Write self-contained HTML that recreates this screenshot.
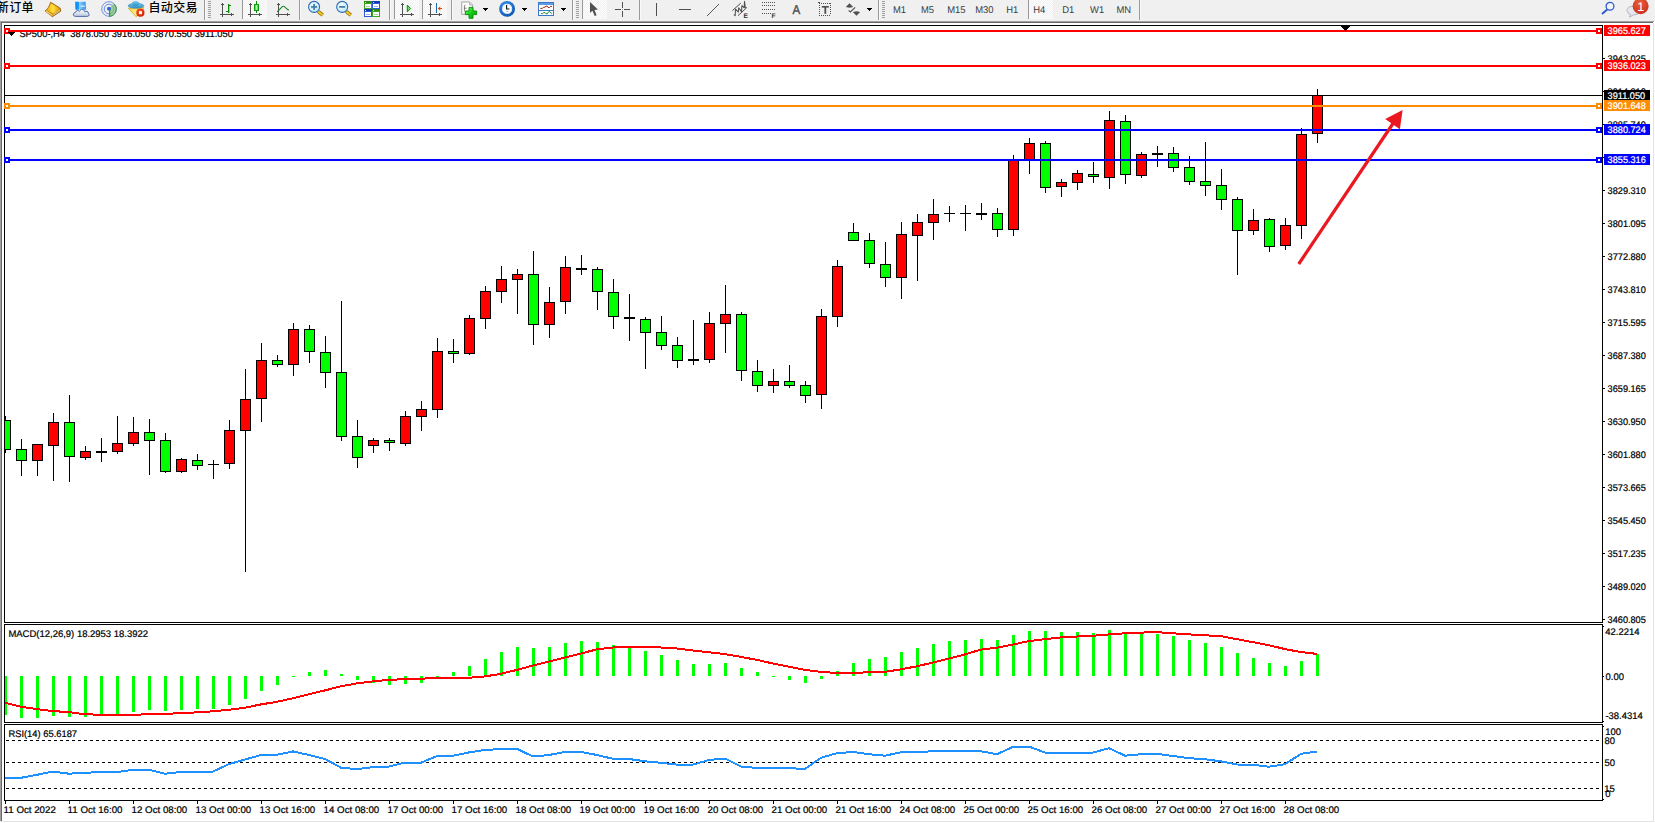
<!DOCTYPE html>
<html lang="zh-CN"><head><meta charset="utf-8"><title>SP500-,H4</title>
<style>
html,body{margin:0;padding:0;background:#fff;}
body{width:1655px;height:823px;position:relative;overflow:hidden;font-family:"Liberation Sans", "Noto Sans CJK SC", sans-serif;}
#tb{position:absolute;left:0;top:0;width:1655px;height:21px;background:#f0f0f0;}
#tb .t{position:absolute;color:#000;font-size:12px;line-height:14px;white-space:nowrap;font-weight:500;letter-spacing:0.35px;}
#tb .p{position:absolute;color:#3c3c3c;font-size:9.9px;line-height:12px;white-space:nowrap;top:4px;letter-spacing:-0.25px;}
#tb .sep{position:absolute;top:1px;width:1px;height:18px;background:#a0a0a0;}
#tb .grip{position:absolute;top:2px;width:3px;height:17px;background:repeating-linear-gradient(#b4b4b4 0 1px,#f0f0f0 1px 2px);}
#tb .on{position:absolute;top:0;height:20px;background:#fafafa;border-left:1px solid #a8a8a8;box-sizing:border-box;}
#tb svg{position:absolute;overflow:visible;}
#chart{position:absolute;left:0;top:0;}
#chart text,#tb svg text{font-family:"Liberation Sans", "Noto Sans CJK SC", sans-serif;text-rendering:geometricPrecision;}
#chart text{fill:#000;stroke:#000;stroke-width:.22px;}
</style></head><body>
<svg id="chart" width="1655" height="823" viewBox="0 0 1655 823">
<g shape-rendering="crispEdges">
<rect x="0" y="21" width="1654" height="1" fill="#a0a0a0"/>
<rect x="1" y="22" width="1652" height="1" fill="#696969"/>
<rect x="0" y="22" width="1" height="800" fill="#a0a0a0"/>
<rect x="1" y="23" width="1" height="798" fill="#696969"/>
<rect x="1653" y="23" width="1" height="799" fill="#e3e3e3"/>
<rect x="0" y="821" width="1654" height="1" fill="#e3e3e3"/>
<rect x="4" y="25" width="1599" height="1" fill="#000"/>
<rect x="4" y="622" width="1599" height="1" fill="#000"/>
<rect x="4" y="25" width="1" height="598" fill="#000"/>
<rect x="1602" y="25" width="1" height="598" fill="#000"/>
<rect x="4" y="624" width="1599" height="1" fill="#000"/>
<rect x="4" y="722" width="1599" height="1" fill="#000"/>
<rect x="4" y="624" width="1" height="99" fill="#000"/>
<rect x="1602" y="624" width="1" height="99" fill="#000"/>
<rect x="4" y="724" width="1599" height="1" fill="#000"/>
<rect x="4" y="800" width="1599" height="1" fill="#000"/>
<rect x="4" y="724" width="1" height="77" fill="#000"/>
<rect x="1602" y="724" width="1" height="77" fill="#000"/>
<rect x="5" y="416" width="1" height="37" fill="#000"/>
<rect x="5" y="420" width="6" height="30" fill="#000"/>
<rect x="5" y="421" width="5" height="28" fill="#00ff00"/>
<rect x="21" y="439" width="1" height="37" fill="#000"/>
<rect x="16" y="449" width="11" height="12" fill="#000"/>
<rect x="17" y="450" width="9" height="10" fill="#00ff00"/>
<rect x="37" y="444" width="1" height="32" fill="#000"/>
<rect x="32" y="444" width="11" height="17" fill="#000"/>
<rect x="33" y="445" width="9" height="15" fill="#ff0000"/>
<rect x="53" y="413" width="1" height="68" fill="#000"/>
<rect x="48" y="422" width="11" height="24" fill="#000"/>
<rect x="49" y="423" width="9" height="22" fill="#ff0000"/>
<rect x="69" y="395" width="1" height="87" fill="#000"/>
<rect x="64" y="422" width="11" height="35" fill="#000"/>
<rect x="65" y="423" width="9" height="33" fill="#00ff00"/>
<rect x="85" y="446" width="1" height="14" fill="#000"/>
<rect x="80" y="451" width="11" height="7" fill="#000"/>
<rect x="81" y="452" width="9" height="5" fill="#ff0000"/>
<rect x="101" y="438" width="1" height="24" fill="#000"/>
<rect x="96" y="451" width="11" height="2" fill="#000"/>
<rect x="117" y="416" width="1" height="38" fill="#000"/>
<rect x="112" y="443" width="11" height="9" fill="#000"/>
<rect x="113" y="444" width="9" height="7" fill="#ff0000"/>
<rect x="133" y="417" width="1" height="29" fill="#000"/>
<rect x="128" y="432" width="11" height="12" fill="#000"/>
<rect x="129" y="433" width="9" height="10" fill="#ff0000"/>
<rect x="149" y="419" width="1" height="56" fill="#000"/>
<rect x="144" y="432" width="11" height="9" fill="#000"/>
<rect x="145" y="433" width="9" height="7" fill="#00ff00"/>
<rect x="165" y="433" width="1" height="40" fill="#000"/>
<rect x="160" y="440" width="11" height="32" fill="#000"/>
<rect x="161" y="441" width="9" height="30" fill="#00ff00"/>
<rect x="181" y="458" width="1" height="15" fill="#000"/>
<rect x="176" y="459" width="11" height="13" fill="#000"/>
<rect x="177" y="460" width="9" height="11" fill="#ff0000"/>
<rect x="197" y="454" width="1" height="16" fill="#000"/>
<rect x="192" y="460" width="11" height="6" fill="#000"/>
<rect x="193" y="461" width="9" height="4" fill="#00ff00"/>
<rect x="213" y="460" width="1" height="19" fill="#000"/>
<rect x="208" y="464" width="11" height="1" fill="#000"/>
<rect x="229" y="420" width="1" height="49" fill="#000"/>
<rect x="224" y="430" width="11" height="34" fill="#000"/>
<rect x="225" y="431" width="9" height="32" fill="#ff0000"/>
<rect x="245" y="369" width="1" height="203" fill="#000"/>
<rect x="240" y="399" width="11" height="32" fill="#000"/>
<rect x="241" y="400" width="9" height="30" fill="#ff0000"/>
<rect x="261" y="343" width="1" height="79" fill="#000"/>
<rect x="256" y="360" width="11" height="39" fill="#000"/>
<rect x="257" y="361" width="9" height="37" fill="#ff0000"/>
<rect x="277" y="355" width="1" height="12" fill="#000"/>
<rect x="272" y="360" width="11" height="5" fill="#000"/>
<rect x="273" y="361" width="9" height="3" fill="#00ff00"/>
<rect x="293" y="323" width="1" height="53" fill="#000"/>
<rect x="288" y="329" width="11" height="36" fill="#000"/>
<rect x="289" y="330" width="9" height="34" fill="#ff0000"/>
<rect x="309" y="325" width="1" height="38" fill="#000"/>
<rect x="304" y="329" width="11" height="23" fill="#000"/>
<rect x="305" y="330" width="9" height="21" fill="#00ff00"/>
<rect x="325" y="336" width="1" height="52" fill="#000"/>
<rect x="320" y="352" width="11" height="21" fill="#000"/>
<rect x="321" y="353" width="9" height="19" fill="#00ff00"/>
<rect x="341" y="301" width="1" height="140" fill="#000"/>
<rect x="336" y="372" width="11" height="65" fill="#000"/>
<rect x="337" y="373" width="9" height="63" fill="#00ff00"/>
<rect x="357" y="420" width="1" height="48" fill="#000"/>
<rect x="352" y="436" width="11" height="22" fill="#000"/>
<rect x="353" y="437" width="9" height="20" fill="#00ff00"/>
<rect x="373" y="438" width="1" height="15" fill="#000"/>
<rect x="368" y="440" width="11" height="6" fill="#000"/>
<rect x="369" y="441" width="9" height="4" fill="#ff0000"/>
<rect x="389" y="438" width="1" height="13" fill="#000"/>
<rect x="384" y="440" width="11" height="3" fill="#000"/>
<rect x="385" y="441" width="9" height="1" fill="#00ff00"/>
<rect x="405" y="411" width="1" height="35" fill="#000"/>
<rect x="400" y="416" width="11" height="28" fill="#000"/>
<rect x="401" y="417" width="9" height="26" fill="#ff0000"/>
<rect x="421" y="401" width="1" height="30" fill="#000"/>
<rect x="416" y="409" width="11" height="8" fill="#000"/>
<rect x="417" y="410" width="9" height="6" fill="#ff0000"/>
<rect x="437" y="338" width="1" height="80" fill="#000"/>
<rect x="432" y="351" width="11" height="59" fill="#000"/>
<rect x="433" y="352" width="9" height="57" fill="#ff0000"/>
<rect x="453" y="339" width="1" height="24" fill="#000"/>
<rect x="448" y="351" width="11" height="3" fill="#000"/>
<rect x="449" y="352" width="9" height="1" fill="#00ff00"/>
<rect x="469" y="315" width="1" height="40" fill="#000"/>
<rect x="464" y="318" width="11" height="36" fill="#000"/>
<rect x="465" y="319" width="9" height="34" fill="#ff0000"/>
<rect x="485" y="286" width="1" height="43" fill="#000"/>
<rect x="480" y="291" width="11" height="28" fill="#000"/>
<rect x="481" y="292" width="9" height="26" fill="#ff0000"/>
<rect x="501" y="266" width="1" height="37" fill="#000"/>
<rect x="496" y="279" width="11" height="13" fill="#000"/>
<rect x="497" y="280" width="9" height="11" fill="#ff0000"/>
<rect x="517" y="269" width="1" height="45" fill="#000"/>
<rect x="512" y="274" width="11" height="6" fill="#000"/>
<rect x="513" y="275" width="9" height="4" fill="#ff0000"/>
<rect x="533" y="251" width="1" height="94" fill="#000"/>
<rect x="528" y="274" width="11" height="51" fill="#000"/>
<rect x="529" y="275" width="9" height="49" fill="#00ff00"/>
<rect x="549" y="287" width="1" height="51" fill="#000"/>
<rect x="544" y="302" width="11" height="23" fill="#000"/>
<rect x="545" y="303" width="9" height="21" fill="#ff0000"/>
<rect x="565" y="256" width="1" height="58" fill="#000"/>
<rect x="560" y="267" width="11" height="35" fill="#000"/>
<rect x="561" y="268" width="9" height="33" fill="#ff0000"/>
<rect x="581" y="255" width="1" height="20" fill="#000"/>
<rect x="576" y="268" width="11" height="2" fill="#000"/>
<rect x="597" y="267" width="1" height="43" fill="#000"/>
<rect x="592" y="269" width="11" height="23" fill="#000"/>
<rect x="593" y="270" width="9" height="21" fill="#00ff00"/>
<rect x="613" y="279" width="1" height="50" fill="#000"/>
<rect x="608" y="292" width="11" height="25" fill="#000"/>
<rect x="609" y="293" width="9" height="23" fill="#00ff00"/>
<rect x="629" y="294" width="1" height="47" fill="#000"/>
<rect x="624" y="317" width="11" height="2" fill="#000"/>
<rect x="645" y="317" width="1" height="52" fill="#000"/>
<rect x="640" y="319" width="11" height="14" fill="#000"/>
<rect x="641" y="320" width="9" height="12" fill="#00ff00"/>
<rect x="661" y="316" width="1" height="34" fill="#000"/>
<rect x="656" y="332" width="11" height="14" fill="#000"/>
<rect x="657" y="333" width="9" height="12" fill="#00ff00"/>
<rect x="677" y="337" width="1" height="31" fill="#000"/>
<rect x="672" y="345" width="11" height="16" fill="#000"/>
<rect x="673" y="346" width="9" height="14" fill="#00ff00"/>
<rect x="693" y="320" width="1" height="45" fill="#000"/>
<rect x="688" y="359" width="11" height="2" fill="#000"/>
<rect x="709" y="312" width="1" height="51" fill="#000"/>
<rect x="704" y="323" width="11" height="37" fill="#000"/>
<rect x="705" y="324" width="9" height="35" fill="#ff0000"/>
<rect x="725" y="285" width="1" height="68" fill="#000"/>
<rect x="720" y="314" width="11" height="10" fill="#000"/>
<rect x="721" y="315" width="9" height="8" fill="#ff0000"/>
<rect x="741" y="312" width="1" height="69" fill="#000"/>
<rect x="736" y="314" width="11" height="57" fill="#000"/>
<rect x="737" y="315" width="9" height="55" fill="#00ff00"/>
<rect x="757" y="360" width="1" height="32" fill="#000"/>
<rect x="752" y="371" width="11" height="15" fill="#000"/>
<rect x="753" y="372" width="9" height="13" fill="#00ff00"/>
<rect x="773" y="369" width="1" height="24" fill="#000"/>
<rect x="768" y="381" width="11" height="5" fill="#000"/>
<rect x="769" y="382" width="9" height="3" fill="#ff0000"/>
<rect x="789" y="365" width="1" height="23" fill="#000"/>
<rect x="784" y="381" width="11" height="5" fill="#000"/>
<rect x="785" y="382" width="9" height="3" fill="#00ff00"/>
<rect x="805" y="381" width="1" height="22" fill="#000"/>
<rect x="800" y="385" width="11" height="11" fill="#000"/>
<rect x="801" y="386" width="9" height="9" fill="#00ff00"/>
<rect x="821" y="309" width="1" height="100" fill="#000"/>
<rect x="816" y="316" width="11" height="79" fill="#000"/>
<rect x="817" y="317" width="9" height="77" fill="#ff0000"/>
<rect x="837" y="260" width="1" height="67" fill="#000"/>
<rect x="832" y="266" width="11" height="51" fill="#000"/>
<rect x="833" y="267" width="9" height="49" fill="#ff0000"/>
<rect x="853" y="223" width="1" height="17" fill="#000"/>
<rect x="848" y="232" width="11" height="9" fill="#000"/>
<rect x="849" y="233" width="9" height="7" fill="#00ff00"/>
<rect x="869" y="233" width="1" height="35" fill="#000"/>
<rect x="864" y="240" width="11" height="24" fill="#000"/>
<rect x="865" y="241" width="9" height="22" fill="#00ff00"/>
<rect x="885" y="242" width="1" height="45" fill="#000"/>
<rect x="880" y="264" width="11" height="14" fill="#000"/>
<rect x="881" y="265" width="9" height="12" fill="#00ff00"/>
<rect x="901" y="222" width="1" height="77" fill="#000"/>
<rect x="896" y="234" width="11" height="44" fill="#000"/>
<rect x="897" y="235" width="9" height="42" fill="#ff0000"/>
<rect x="917" y="214" width="1" height="67" fill="#000"/>
<rect x="912" y="222" width="11" height="14" fill="#000"/>
<rect x="913" y="223" width="9" height="12" fill="#ff0000"/>
<rect x="933" y="199" width="1" height="41" fill="#000"/>
<rect x="928" y="214" width="11" height="9" fill="#000"/>
<rect x="929" y="215" width="9" height="7" fill="#ff0000"/>
<rect x="949" y="206" width="1" height="16" fill="#000"/>
<rect x="944" y="213" width="11" height="1" fill="#000"/>
<rect x="965" y="205" width="1" height="26" fill="#000"/>
<rect x="960" y="213" width="11" height="1" fill="#000"/>
<rect x="981" y="203" width="1" height="17" fill="#000"/>
<rect x="976" y="213" width="11" height="2" fill="#000"/>
<rect x="997" y="208" width="1" height="29" fill="#000"/>
<rect x="992" y="213" width="11" height="17" fill="#000"/>
<rect x="993" y="214" width="9" height="15" fill="#00ff00"/>
<rect x="1013" y="155" width="1" height="81" fill="#000"/>
<rect x="1008" y="159" width="11" height="71" fill="#000"/>
<rect x="1009" y="160" width="9" height="69" fill="#ff0000"/>
<rect x="1029" y="138" width="1" height="36" fill="#000"/>
<rect x="1024" y="143" width="11" height="17" fill="#000"/>
<rect x="1025" y="144" width="9" height="15" fill="#ff0000"/>
<rect x="1045" y="141" width="1" height="52" fill="#000"/>
<rect x="1040" y="143" width="11" height="45" fill="#000"/>
<rect x="1041" y="144" width="9" height="43" fill="#00ff00"/>
<rect x="1061" y="179" width="1" height="18" fill="#000"/>
<rect x="1056" y="182" width="11" height="5" fill="#000"/>
<rect x="1057" y="183" width="9" height="3" fill="#ff0000"/>
<rect x="1077" y="170" width="1" height="20" fill="#000"/>
<rect x="1072" y="173" width="11" height="10" fill="#000"/>
<rect x="1073" y="174" width="9" height="8" fill="#ff0000"/>
<rect x="1093" y="162" width="1" height="21" fill="#000"/>
<rect x="1088" y="174" width="11" height="3" fill="#000"/>
<rect x="1089" y="175" width="9" height="1" fill="#00ff00"/>
<rect x="1109" y="111" width="1" height="78" fill="#000"/>
<rect x="1104" y="120" width="11" height="58" fill="#000"/>
<rect x="1105" y="121" width="9" height="56" fill="#ff0000"/>
<rect x="1125" y="115" width="1" height="69" fill="#000"/>
<rect x="1120" y="121" width="11" height="54" fill="#000"/>
<rect x="1121" y="122" width="9" height="52" fill="#00ff00"/>
<rect x="1141" y="152" width="1" height="26" fill="#000"/>
<rect x="1136" y="154" width="11" height="22" fill="#000"/>
<rect x="1137" y="155" width="9" height="20" fill="#ff0000"/>
<rect x="1157" y="146" width="1" height="21" fill="#000"/>
<rect x="1152" y="153" width="11" height="2" fill="#000"/>
<rect x="1173" y="147" width="1" height="25" fill="#000"/>
<rect x="1168" y="153" width="11" height="15" fill="#000"/>
<rect x="1169" y="154" width="9" height="13" fill="#00ff00"/>
<rect x="1189" y="156" width="1" height="29" fill="#000"/>
<rect x="1184" y="167" width="11" height="15" fill="#000"/>
<rect x="1185" y="168" width="9" height="13" fill="#00ff00"/>
<rect x="1205" y="142" width="1" height="54" fill="#000"/>
<rect x="1200" y="181" width="11" height="5" fill="#000"/>
<rect x="1201" y="182" width="9" height="3" fill="#00ff00"/>
<rect x="1221" y="169" width="1" height="41" fill="#000"/>
<rect x="1216" y="185" width="11" height="15" fill="#000"/>
<rect x="1217" y="186" width="9" height="13" fill="#00ff00"/>
<rect x="1237" y="197" width="1" height="78" fill="#000"/>
<rect x="1232" y="199" width="11" height="32" fill="#000"/>
<rect x="1233" y="200" width="9" height="30" fill="#00ff00"/>
<rect x="1253" y="209" width="1" height="26" fill="#000"/>
<rect x="1248" y="220" width="11" height="11" fill="#000"/>
<rect x="1249" y="221" width="9" height="9" fill="#ff0000"/>
<rect x="1269" y="218" width="1" height="34" fill="#000"/>
<rect x="1264" y="219" width="11" height="28" fill="#000"/>
<rect x="1265" y="220" width="9" height="26" fill="#00ff00"/>
<rect x="1285" y="218" width="1" height="32" fill="#000"/>
<rect x="1280" y="225" width="11" height="21" fill="#000"/>
<rect x="1281" y="226" width="9" height="19" fill="#ff0000"/>
<rect x="1301" y="128" width="1" height="111" fill="#000"/>
<rect x="1296" y="134" width="11" height="92" fill="#000"/>
<rect x="1297" y="135" width="9" height="90" fill="#ff0000"/>
<rect x="1317" y="89" width="1" height="54" fill="#000"/>
<rect x="1312" y="95" width="11" height="39" fill="#000"/>
<rect x="1313" y="96" width="9" height="37" fill="#ff0000"/>
<rect x="5" y="30" width="1597" height="2" fill="#ff0000"/>
<rect x="4" y="28" width="6" height="6" fill="#ff0000"/>
<rect x="6" y="30" width="2" height="2" fill="#fff"/>
<rect x="1596" y="28" width="6" height="6" fill="#ff0000"/>
<rect x="1598" y="30" width="2" height="2" fill="#fff"/>
<rect x="5" y="65" width="1597" height="2" fill="#ff0000"/>
<rect x="4" y="63" width="6" height="6" fill="#ff0000"/>
<rect x="6" y="65" width="2" height="2" fill="#fff"/>
<rect x="1596" y="63" width="6" height="6" fill="#ff0000"/>
<rect x="1598" y="65" width="2" height="2" fill="#fff"/>
<rect x="5" y="95" width="1597" height="1" fill="#000000"/>
<rect x="5" y="105" width="1597" height="2" fill="#ff8c00"/>
<rect x="4" y="103" width="6" height="6" fill="#ff8c00"/>
<rect x="6" y="105" width="2" height="2" fill="#fff"/>
<rect x="1596" y="103" width="6" height="6" fill="#ff8c00"/>
<rect x="1598" y="105" width="2" height="2" fill="#fff"/>
<rect x="5" y="129" width="1597" height="2" fill="#0000ff"/>
<rect x="4" y="127" width="6" height="6" fill="#0000ff"/>
<rect x="6" y="129" width="2" height="2" fill="#fff"/>
<rect x="1596" y="127" width="6" height="6" fill="#0000ff"/>
<rect x="1598" y="129" width="2" height="2" fill="#fff"/>
<rect x="5" y="159" width="1597" height="2" fill="#0000ff"/>
<rect x="4" y="157" width="6" height="6" fill="#0000ff"/>
<rect x="6" y="159" width="2" height="2" fill="#fff"/>
<rect x="1596" y="157" width="6" height="6" fill="#0000ff"/>
<rect x="1598" y="159" width="2" height="2" fill="#fff"/>
<rect x="1602" y="25" width="1" height="598" fill="#000"/>
<rect x="8" y="32" width="7" height="1" fill="#000"/>
<rect x="9" y="33" width="5" height="1" fill="#000"/>
<rect x="10" y="34" width="3" height="1" fill="#000"/>
<rect x="11" y="35" width="1" height="1" fill="#000"/>
<rect x="1341" y="26" width="9" height="1" fill="#000"/>
<rect x="1342" y="27" width="7" height="1" fill="#000"/>
<rect x="1343" y="28" width="5" height="1" fill="#000"/>
<rect x="1344" y="29" width="3" height="1" fill="#000"/>
<rect x="1345" y="30" width="1" height="1" fill="#000"/>
<rect x="5" y="676" width="2" height="39" fill="#00ff00"/>
<rect x="20" y="676" width="3" height="42" fill="#00ff00"/>
<rect x="36" y="676" width="3" height="42" fill="#00ff00"/>
<rect x="52" y="676" width="3" height="40" fill="#00ff00"/>
<rect x="68" y="676" width="3" height="41" fill="#00ff00"/>
<rect x="84" y="676" width="3" height="41" fill="#00ff00"/>
<rect x="100" y="676" width="3" height="38" fill="#00ff00"/>
<rect x="116" y="676" width="3" height="38" fill="#00ff00"/>
<rect x="132" y="676" width="3" height="36" fill="#00ff00"/>
<rect x="148" y="676" width="3" height="34" fill="#00ff00"/>
<rect x="164" y="676" width="3" height="35" fill="#00ff00"/>
<rect x="180" y="676" width="3" height="34" fill="#00ff00"/>
<rect x="196" y="676" width="3" height="33" fill="#00ff00"/>
<rect x="212" y="676" width="3" height="33" fill="#00ff00"/>
<rect x="228" y="676" width="3" height="29" fill="#00ff00"/>
<rect x="244" y="676" width="3" height="23" fill="#00ff00"/>
<rect x="260" y="676" width="3" height="15" fill="#00ff00"/>
<rect x="276" y="676" width="3" height="9" fill="#00ff00"/>
<rect x="292" y="676" width="3" height="1" fill="#00ff00"/>
<rect x="308" y="672" width="3" height="4" fill="#00ff00"/>
<rect x="324" y="670" width="3" height="6" fill="#00ff00"/>
<rect x="340" y="674" width="3" height="2" fill="#00ff00"/>
<rect x="356" y="676" width="3" height="4" fill="#00ff00"/>
<rect x="372" y="676" width="3" height="7" fill="#00ff00"/>
<rect x="388" y="676" width="3" height="9" fill="#00ff00"/>
<rect x="404" y="676" width="3" height="8" fill="#00ff00"/>
<rect x="420" y="676" width="3" height="7" fill="#00ff00"/>
<rect x="436" y="676" width="3" height="1" fill="#00ff00"/>
<rect x="452" y="672" width="3" height="4" fill="#00ff00"/>
<rect x="468" y="666" width="3" height="10" fill="#00ff00"/>
<rect x="484" y="659" width="3" height="17" fill="#00ff00"/>
<rect x="500" y="652" width="3" height="24" fill="#00ff00"/>
<rect x="516" y="647" width="3" height="29" fill="#00ff00"/>
<rect x="532" y="648" width="3" height="28" fill="#00ff00"/>
<rect x="548" y="647" width="3" height="29" fill="#00ff00"/>
<rect x="564" y="643" width="3" height="33" fill="#00ff00"/>
<rect x="580" y="641" width="3" height="35" fill="#00ff00"/>
<rect x="596" y="642" width="3" height="34" fill="#00ff00"/>
<rect x="612" y="645" width="3" height="31" fill="#00ff00"/>
<rect x="628" y="647" width="3" height="29" fill="#00ff00"/>
<rect x="644" y="651" width="3" height="25" fill="#00ff00"/>
<rect x="660" y="655" width="3" height="21" fill="#00ff00"/>
<rect x="676" y="660" width="3" height="16" fill="#00ff00"/>
<rect x="692" y="664" width="3" height="12" fill="#00ff00"/>
<rect x="708" y="664" width="3" height="12" fill="#00ff00"/>
<rect x="724" y="663" width="3" height="13" fill="#00ff00"/>
<rect x="740" y="668" width="3" height="8" fill="#00ff00"/>
<rect x="756" y="672" width="3" height="4" fill="#00ff00"/>
<rect x="772" y="676" width="3" height="1" fill="#00ff00"/>
<rect x="788" y="676" width="3" height="4" fill="#00ff00"/>
<rect x="804" y="676" width="3" height="7" fill="#00ff00"/>
<rect x="820" y="676" width="3" height="3" fill="#00ff00"/>
<rect x="836" y="671" width="3" height="5" fill="#00ff00"/>
<rect x="852" y="663" width="3" height="13" fill="#00ff00"/>
<rect x="868" y="659" width="3" height="17" fill="#00ff00"/>
<rect x="884" y="657" width="3" height="19" fill="#00ff00"/>
<rect x="900" y="652" width="3" height="24" fill="#00ff00"/>
<rect x="916" y="648" width="3" height="28" fill="#00ff00"/>
<rect x="932" y="644" width="3" height="32" fill="#00ff00"/>
<rect x="948" y="641" width="3" height="35" fill="#00ff00"/>
<rect x="964" y="640" width="3" height="36" fill="#00ff00"/>
<rect x="980" y="639" width="3" height="37" fill="#00ff00"/>
<rect x="996" y="640" width="3" height="36" fill="#00ff00"/>
<rect x="1012" y="635" width="3" height="41" fill="#00ff00"/>
<rect x="1028" y="631" width="3" height="45" fill="#00ff00"/>
<rect x="1044" y="631" width="3" height="45" fill="#00ff00"/>
<rect x="1060" y="632" width="3" height="44" fill="#00ff00"/>
<rect x="1076" y="632" width="3" height="44" fill="#00ff00"/>
<rect x="1092" y="633" width="3" height="43" fill="#00ff00"/>
<rect x="1108" y="630" width="3" height="46" fill="#00ff00"/>
<rect x="1124" y="632" width="3" height="44" fill="#00ff00"/>
<rect x="1140" y="633" width="3" height="43" fill="#00ff00"/>
<rect x="1156" y="634" width="3" height="42" fill="#00ff00"/>
<rect x="1172" y="636" width="3" height="40" fill="#00ff00"/>
<rect x="1188" y="640" width="3" height="36" fill="#00ff00"/>
<rect x="1204" y="643" width="3" height="33" fill="#00ff00"/>
<rect x="1220" y="647" width="3" height="29" fill="#00ff00"/>
<rect x="1236" y="653" width="3" height="23" fill="#00ff00"/>
<rect x="1252" y="658" width="3" height="18" fill="#00ff00"/>
<rect x="1268" y="663" width="3" height="13" fill="#00ff00"/>
<rect x="1284" y="666" width="3" height="10" fill="#00ff00"/>
<rect x="1300" y="661" width="3" height="15" fill="#00ff00"/>
<rect x="1316" y="654" width="3" height="22" fill="#00ff00"/>
<line x1="6" y1="740.5" x2="1602" y2="740.5" stroke="#000" stroke-width="1" stroke-dasharray="3 3"/>
<line x1="6" y1="762.5" x2="1602" y2="762.5" stroke="#000" stroke-width="1" stroke-dasharray="3 3"/>
<line x1="6" y1="788.5" x2="1602" y2="788.5" stroke="#000" stroke-width="1" stroke-dasharray="3 3"/>
<rect x="1603" y="619" width="2" height="1" fill="#000"/>
<rect x="1603" y="586" width="2" height="1" fill="#000"/>
<rect x="1603" y="553" width="2" height="1" fill="#000"/>
<rect x="1603" y="520" width="2" height="1" fill="#000"/>
<rect x="1603" y="487" width="2" height="1" fill="#000"/>
<rect x="1603" y="454" width="2" height="1" fill="#000"/>
<rect x="1603" y="421" width="2" height="1" fill="#000"/>
<rect x="1603" y="388" width="2" height="1" fill="#000"/>
<rect x="1603" y="355" width="2" height="1" fill="#000"/>
<rect x="1603" y="322" width="2" height="1" fill="#000"/>
<rect x="1603" y="289" width="2" height="1" fill="#000"/>
<rect x="1603" y="256" width="2" height="1" fill="#000"/>
<rect x="1603" y="223" width="2" height="1" fill="#000"/>
<rect x="1603" y="190" width="2" height="1" fill="#000"/>
<rect x="1603" y="157" width="2" height="1" fill="#000"/>
<rect x="1603" y="124" width="2" height="1" fill="#000"/>
<rect x="1603" y="91" width="2" height="1" fill="#000"/>
<rect x="1603" y="58" width="2" height="1" fill="#000"/>
<rect x="1603" y="626" width="1" height="1" fill="#000"/>
<rect x="1603" y="676" width="1" height="1" fill="#000"/>
<rect x="1603" y="721" width="1" height="1" fill="#000"/>
<rect x="1603" y="726" width="1" height="1" fill="#000"/>
<rect x="1603" y="799" width="1" height="1" fill="#000"/>
<rect x="5" y="801" width="1" height="3" fill="#000"/>
<rect x="69" y="801" width="1" height="3" fill="#000"/>
<rect x="133" y="801" width="1" height="3" fill="#000"/>
<rect x="197" y="801" width="1" height="3" fill="#000"/>
<rect x="261" y="801" width="1" height="3" fill="#000"/>
<rect x="325" y="801" width="1" height="3" fill="#000"/>
<rect x="389" y="801" width="1" height="3" fill="#000"/>
<rect x="453" y="801" width="1" height="3" fill="#000"/>
<rect x="517" y="801" width="1" height="3" fill="#000"/>
<rect x="581" y="801" width="1" height="3" fill="#000"/>
<rect x="645" y="801" width="1" height="3" fill="#000"/>
<rect x="709" y="801" width="1" height="3" fill="#000"/>
<rect x="773" y="801" width="1" height="3" fill="#000"/>
<rect x="837" y="801" width="1" height="3" fill="#000"/>
<rect x="901" y="801" width="1" height="3" fill="#000"/>
<rect x="965" y="801" width="1" height="3" fill="#000"/>
<rect x="1029" y="801" width="1" height="3" fill="#000"/>
<rect x="1093" y="801" width="1" height="3" fill="#000"/>
<rect x="1157" y="801" width="1" height="3" fill="#000"/>
<rect x="1221" y="801" width="1" height="3" fill="#000"/>
<rect x="1285" y="801" width="1" height="3" fill="#000"/>
</g>
<polyline points="5,702.8 21,706.7 37,709.1 53,711.1 69,712.1 85,714.3 101,714.7 117,714.7 133,714.7 149,714.3 165,713.7 181,713.3 197,712.3 213,711.3 229,709.7 245,707.7 261,704.4 277,701.8 293,698.2 309,694.2 325,690.4 341,686.2 357,683.4 373,681.4 389,679.8 405,679.2 421,678.6 437,678.2 453,678.0 469,677.8 485,676.4 501,673.8 517,669.9 533,665.5 549,661.5 565,657.5 581,653.5 597,649.3 613,647.5 629,646.7 645,646.7 661,647.5 677,648.5 693,650.5 709,652.3 725,654.1 741,656.9 757,659.9 773,663.5 789,666.7 805,669.9 821,671.9 837,673.0 853,673.0 869,672.2 885,671.9 901,669.3 917,666.3 933,662.5 949,658.5 965,654.4 981,649.6 997,647.7 1013,644.5 1029,641.1 1045,639.2 1061,637.4 1077,636.5 1093,635.8 1109,634.4 1125,633.3 1141,632.6 1157,632.1 1173,633.3 1189,634.4 1205,635.3 1221,636.2 1237,639.2 1253,642.2 1269,645.2 1285,649.1 1301,652.1 1317,653.9" fill="none" stroke="#ff0000" stroke-width="2" shape-rendering="crispEdges"/>
<polyline points="5,777.8 21,777.8 37,774.8 53,771.5 69,773.7 85,772.7 101,772.2 117,772.2 133,769.7 149,769.7 165,773.7 181,772.0 197,771.5 213,771.5 229,764.1 245,759.5 261,755.0 277,754.7 293,751.4 309,755.0 325,759.0 341,767.7 357,769.2 373,767.1 389,766.6 405,762.6 421,762.7 437,756.0 453,755.7 469,752.4 485,749.9 501,749.1 517,748.9 533,756.5 549,755.0 565,751.9 581,751.9 597,755.0 613,758.8 629,759.0 645,761.3 661,762.8 677,764.6 693,764.6 709,760.0 725,758.5 741,766.6 757,767.9 773,767.9 789,768.2 805,768.9 821,757.7 837,753.2 853,752.0 869,754.2 885,755.7 901,752.3 917,752.0 933,751.3 949,751.0 965,751.0 981,751.3 997,754.2 1013,746.9 1029,746.6 1045,752.6 1061,752.6 1077,752.6 1093,752.6 1109,748.2 1125,755.7 1141,754.2 1157,753.8 1173,756.0 1189,758.2 1205,759.2 1221,761.4 1237,764.5 1253,764.8 1269,766.7 1285,764.2 1301,753.8 1317,751.6" fill="none" stroke="#1e90ff" stroke-width="2" shape-rendering="crispEdges"/>
<g fill="#ea1821" stroke="none"><line x1="1298.7" y1="264" x2="1394" y2="122" stroke="#ea1821" stroke-width="3.2"/>
<polygon points="1402.6,110 1385.2,119 1399.9,129.2"/></g>
<text transform="translate(1607.6,623) scale(0.955,1)" font-size="9.6">3460.805</text>
<text transform="translate(1607.6,590) scale(0.955,1)" font-size="9.6">3489.020</text>
<text transform="translate(1607.6,557) scale(0.955,1)" font-size="9.6">3517.235</text>
<text transform="translate(1607.6,524) scale(0.955,1)" font-size="9.6">3545.450</text>
<text transform="translate(1607.6,491) scale(0.955,1)" font-size="9.6">3573.665</text>
<text transform="translate(1607.6,458) scale(0.955,1)" font-size="9.6">3601.880</text>
<text transform="translate(1607.6,425) scale(0.955,1)" font-size="9.6">3630.950</text>
<text transform="translate(1607.6,392) scale(0.955,1)" font-size="9.6">3659.165</text>
<text transform="translate(1607.6,359) scale(0.955,1)" font-size="9.6">3687.380</text>
<text transform="translate(1607.6,326) scale(0.955,1)" font-size="9.6">3715.595</text>
<text transform="translate(1607.6,293) scale(0.955,1)" font-size="9.6">3743.810</text>
<text transform="translate(1607.6,260) scale(0.955,1)" font-size="9.6">3772.880</text>
<text transform="translate(1607.6,227) scale(0.955,1)" font-size="9.6">3801.095</text>
<text transform="translate(1607.6,194) scale(0.955,1)" font-size="9.6">3829.310</text>
<text transform="translate(1607.6,161) scale(0.955,1)" font-size="9.6">3857.525</text>
<text transform="translate(1607.6,128) scale(0.955,1)" font-size="9.6">3885.740</text>
<text transform="translate(1607.6,95) scale(0.955,1)" font-size="9.6">3914.810</text>
<text transform="translate(1607.6,62) scale(0.955,1)" font-size="9.6">3943.025</text>
<rect x="1604" y="25" width="46" height="11" fill="#ff0000" shape-rendering="crispEdges"/>
<rect x="1604" y="60" width="46" height="11" fill="#ff0000" shape-rendering="crispEdges"/>
<rect x="1604" y="90" width="46" height="11" fill="#000000" shape-rendering="crispEdges"/>
<rect x="1604" y="100" width="46" height="11" fill="#ff8c00" shape-rendering="crispEdges"/>
<rect x="1604" y="124" width="46" height="11" fill="#0000ff" shape-rendering="crispEdges"/>
<rect x="1604" y="154" width="46" height="11" fill="#0000ff" shape-rendering="crispEdges"/>
<rect x="1604" y="25" width="46" height="11" fill="#ff0000" shape-rendering="crispEdges"/>
<text transform="translate(1607.6,34) scale(0.955,1)" font-size="9.6" style="fill:#fff;stroke:#fff">3965.627</text>
<rect x="1604" y="60" width="46" height="11" fill="#ff0000" shape-rendering="crispEdges"/>
<text transform="translate(1607.6,69) scale(0.955,1)" font-size="9.6" style="fill:#fff;stroke:#fff">3936.023</text>
<rect x="1604" y="90" width="46" height="11" fill="#000000" shape-rendering="crispEdges"/>
<text transform="translate(1607.6,99) scale(0.955,1)" font-size="9.6" style="fill:#fff;stroke:#fff">3911.050</text>
<rect x="1604" y="100" width="46" height="11" fill="#ff8c00" shape-rendering="crispEdges"/>
<text transform="translate(1607.6,109) scale(0.955,1)" font-size="9.6" style="fill:#fff;stroke:#fff">3901.648</text>
<rect x="1604" y="124" width="46" height="11" fill="#0000ff" shape-rendering="crispEdges"/>
<text transform="translate(1607.6,133) scale(0.955,1)" font-size="9.6" style="fill:#fff;stroke:#fff">3880.724</text>
<rect x="1604" y="154" width="46" height="11" fill="#0000ff" shape-rendering="crispEdges"/>
<text transform="translate(1607.6,163) scale(0.955,1)" font-size="9.6" style="fill:#fff;stroke:#fff">3855.316</text>
<text transform="translate(1605.3,635) scale(0.985,1)" font-size="9.6">42.2214</text>
<text transform="translate(1605.5,680) scale(0.985,1)" font-size="9.6">0.00</text>
<text transform="translate(1605.4,719) scale(0.985,1)" font-size="9.6">-38.4314</text>
<text transform="translate(1605.2,735) scale(0.985,1)" font-size="9.6">100</text>
<text transform="translate(1604.6,744) scale(0.985,1)" font-size="9.6">80</text>
<text transform="translate(1604.6,766) scale(0.985,1)" font-size="9.6">50</text>
<text transform="translate(1604.2,792) scale(0.985,1)" font-size="9.6">15</text>
<text transform="translate(1605.2,797) scale(0.985,1)" font-size="9.6">0</text>
<text transform="translate(19.4,37) scale(0.972,1)" font-size="9.6">SP500-,H4&#160; 3878.050 3916.050 3870.550 3911.050</text>
<rect x="11" y="30" width="240" height="2" fill="#ff0000" shape-rendering="crispEdges"/>
<text transform="translate(8.4,637) scale(0.988,1)" font-size="9.6">MACD(12,26,9) 18.2953 18.3922</text>
<text transform="translate(8.4,737) scale(0.975,1)" font-size="9.6">RSI(14) 65.6187</text>
<text transform="translate(3.6,813) scale(1.012,1)" font-size="9.6">11 Oct 2022</text>
<text transform="translate(67.6,813) scale(1.012,1)" font-size="9.6">11 Oct 16:00</text>
<text transform="translate(131.6,813) scale(1.012,1)" font-size="9.6">12 Oct 08:00</text>
<text transform="translate(195.6,813) scale(1.012,1)" font-size="9.6">13 Oct 00:00</text>
<text transform="translate(259.6,813) scale(1.012,1)" font-size="9.6">13 Oct 16:00</text>
<text transform="translate(323.6,813) scale(1.012,1)" font-size="9.6">14 Oct 08:00</text>
<text transform="translate(387.6,813) scale(1.012,1)" font-size="9.6">17 Oct 00:00</text>
<text transform="translate(451.6,813) scale(1.012,1)" font-size="9.6">17 Oct 16:00</text>
<text transform="translate(515.6,813) scale(1.012,1)" font-size="9.6">18 Oct 08:00</text>
<text transform="translate(579.6,813) scale(1.012,1)" font-size="9.6">19 Oct 00:00</text>
<text transform="translate(643.6,813) scale(1.012,1)" font-size="9.6">19 Oct 16:00</text>
<text transform="translate(707.6,813) scale(1.012,1)" font-size="9.6">20 Oct 08:00</text>
<text transform="translate(771.6,813) scale(1.012,1)" font-size="9.6">21 Oct 00:00</text>
<text transform="translate(835.6,813) scale(1.012,1)" font-size="9.6">21 Oct 16:00</text>
<text transform="translate(899.6,813) scale(1.012,1)" font-size="9.6">24 Oct 08:00</text>
<text transform="translate(963.6,813) scale(1.012,1)" font-size="9.6">25 Oct 00:00</text>
<text transform="translate(1027.6,813) scale(1.012,1)" font-size="9.6">25 Oct 16:00</text>
<text transform="translate(1091.6,813) scale(1.012,1)" font-size="9.6">26 Oct 08:00</text>
<text transform="translate(1155.6,813) scale(1.012,1)" font-size="9.6">27 Oct 00:00</text>
<text transform="translate(1219.6,813) scale(1.012,1)" font-size="9.6">27 Oct 16:00</text>
<text transform="translate(1283.6,813) scale(1.012,1)" font-size="9.6">28 Oct 08:00</text>
</svg>
<div id="tb">
<svg width="1655" height="21" viewBox="0 0 1655 21" style="left:0;top:0">
<defs>
<pattern id="chk" width="2" height="2" patternUnits="userSpaceOnUse"><rect width="2" height="2" fill="#f0f0f0"/><rect width="1" height="1" fill="#fff"/><rect x="1" y="1" width="1" height="1" fill="#fff"/></pattern>
<linearGradient id="gold" x1="0" y1="0" x2="1" y2="0"><stop offset="0" stop-color="#e9a800"/><stop offset=".5" stop-color="#ffdf40"/><stop offset="1" stop-color="#e2a000"/></linearGradient>
<linearGradient id="cloud" x1="0" y1="0" x2="0" y2="1"><stop offset="0" stop-color="#ffffff"/><stop offset="1" stop-color="#b9c6dd"/></linearGradient>
<linearGradient id="srv" x1="0" y1="0" x2="1" y2="0"><stop offset="0" stop-color="#0b86ea"/><stop offset=".35" stop-color="#1e9cff"/><stop offset=".4" stop-color="#8fd0ff"/><stop offset="1" stop-color="#2a8ff0"/></linearGradient>
<radialGradient id="lens" cx=".4" cy=".35" r=".7"><stop offset="0" stop-color="#f4fcff"/><stop offset="1" stop-color="#bfe6f6"/></radialGradient>
<linearGradient id="hat" x1="0" y1="0" x2="0" y2="1"><stop offset="0" stop-color="#7cc8ee"/><stop offset="1" stop-color="#2a8fc4"/></linearGradient>
<linearGradient id="face" x1="0" y1="0" x2="1" y2="1"><stop offset="0" stop-color="#f7d23a"/><stop offset=".6" stop-color="#fff08a"/><stop offset="1" stop-color="#e0a810"/></linearGradient>
<radialGradient id="redb" cx=".4" cy=".35" r=".7"><stop offset="0" stop-color="#ff5a30"/><stop offset="1" stop-color="#d01800"/></radialGradient>
<linearGradient id="cndl" x1="0" y1="0" x2="1" y2="0"><stop offset="0" stop-color="#10c010"/><stop offset=".5" stop-color="#a8ffa8"/><stop offset="1" stop-color="#10c010"/></linearGradient>
<radialGradient id="clk" cx=".4" cy=".3" r=".8"><stop offset="0" stop-color="#3a96ee"/><stop offset="1" stop-color="#0a4fae"/></radialGradient>
<linearGradient id="plus" x1="0" y1="0" x2="1" y2="1"><stop offset="0" stop-color="#7dff7d"/><stop offset=".5" stop-color="#12d012"/><stop offset="1" stop-color="#079a07"/></linearGradient>
<radialGradient id="badge" cx=".45" cy=".3" r=".8"><stop offset="0" stop-color="#e8603a"/><stop offset="1" stop-color="#c8281a"/></radialGradient>
</defs>
<path d="M50.6 2.3 L60.2 8.2 L60.7 11.2 L52.4 16.7 L45.1 10.9 C47.6 9.4 49.6 6 50.6 2.3 Z" fill="#c88a10" stroke="#9a5c08" stroke-width=".9" stroke-linejoin="round"/>
<path d="M50.9 3.2 L59.6 8.6 L53.2 13.6 L46.4 9.9 C48.4 8.4 50 5.6 50.9 3.2 Z" fill="url(#gold)"/>
<path d="M46 11 L52.5 15.4" fill="none" stroke="#f6d66a" stroke-width="1.2"/>
<path d="M53.4 15.2 L60 10.6 M53.2 14.2 L59.8 9.6" fill="none" stroke="#efe3b0" stroke-width=".6"/>
<path d="M75.2 1.8 L85.6 1.8 L86 9.8 L75.4 9.8 Z" fill="url(#srv)"/>
<rect x="80.5" y="5.6" width="4.5" height="1.1" fill="#e8f6ff"/>
<path d="M75.5 16.4 C72.6 16.4 72.6 12.6 75.6 12.4 C75.8 10.4 78.6 10 79.4 11.4 C80.4 8.8 84.4 9 84.8 11.8 C86.2 10.6 88.6 11.4 88.2 13 C89.8 13.6 89.4 16.4 87.4 16.4 Z" fill="url(#cloud)" stroke="#3c5c9c" stroke-width=".9"/>
<g fill="none" stroke-width="1">
<circle cx="109" cy="9" r="7.3" stroke="#6f8fe0"/><circle cx="109" cy="9" r="4.8" stroke="#6488de"/>
<path d="M109 16.3 A7.3 7.3 0 0 0 113.5 3.2 L109 9 Z" fill="#7fc07f" stroke="none" opacity=".75"/>
<path d="M109 16.3 A7.3 7.3 0 0 0 114.6 4.3" stroke="#3f9a50"/>
</g>
<circle cx="109" cy="8.8" r="2" fill="#2f5fd0"/>
<rect x="109" y="9" width="1.2" height="7.6" fill="#20a020"/>
<path d="M128.4 8.2 L143.8 7.6 L141 12 L136 16.7 Z" fill="url(#face)" stroke="#c89a10" stroke-width=".7"/>
<ellipse cx="136" cy="5.8" rx="7.8" ry="2.5" fill="url(#hat)" stroke="#2a86b4" stroke-width=".6"/>
<ellipse cx="135.6" cy="3.6" rx="3.6" ry="2.6" fill="url(#hat)"/>
<circle cx="140.4" cy="12.7" r="4.1" fill="url(#redb)"/>
<rect x="139" y="11.2" width="3" height="3" fill="#fff"/>
<rect x="204" y="0" width="1" height="20" fill="#999999" shape-rendering="crispEdges"/><rect x="205" y="0" width="1" height="20" fill="#fafafa" shape-rendering="crispEdges"/>
<rect x="208" y="1" width="3" height="1" fill="#a0a0a0" shape-rendering="crispEdges"/>
<rect x="208" y="3" width="3" height="1" fill="#a0a0a0" shape-rendering="crispEdges"/>
<rect x="208" y="5" width="3" height="1" fill="#a0a0a0" shape-rendering="crispEdges"/>
<rect x="208" y="7" width="3" height="1" fill="#a0a0a0" shape-rendering="crispEdges"/>
<rect x="208" y="9" width="3" height="1" fill="#a0a0a0" shape-rendering="crispEdges"/>
<rect x="208" y="11" width="3" height="1" fill="#a0a0a0" shape-rendering="crispEdges"/>
<rect x="208" y="13" width="3" height="1" fill="#a0a0a0" shape-rendering="crispEdges"/>
<rect x="208" y="15" width="3" height="1" fill="#a0a0a0" shape-rendering="crispEdges"/>
<rect x="208" y="17" width="3" height="1" fill="#a0a0a0" shape-rendering="crispEdges"/>
<g fill="#505050" shape-rendering="crispEdges">
<rect x="222" y="3" width="1" height="14"/>
<rect x="221" y="4" width="3" height="1"/>
<rect x="220" y="14" width="13" height="1"/>
<rect x="231" y="13" width="1" height="3"/>
<rect x="233" y="14" width="1" height="1"/>
</g>
<g fill="#0a8a0a" shape-rendering="crispEdges"><rect x="228" y="4" width="1" height="9"/><rect x="228" y="5" width="3" height="1"/><rect x="226" y="11" width="3" height="1"/></g>
<g fill="#0a8a0a" opacity=".35" shape-rendering="crispEdges"><rect x="229" y="4" width="1" height="9"/></g>
<rect x="243" y="0" width="24" height="19" fill="url(#chk)" shape-rendering="crispEdges"/>
<rect x="242" y="0" width="1" height="19" fill="#999999" shape-rendering="crispEdges"/>
<g fill="#505050" shape-rendering="crispEdges">
<rect x="250" y="3" width="1" height="14"/>
<rect x="249" y="4" width="3" height="1"/>
<rect x="248" y="14" width="13" height="1"/>
<rect x="259" y="13" width="1" height="3"/>
<rect x="261" y="14" width="1" height="1"/>
</g>
<rect x="256" y="1" width="1" height="12" fill="#0a8a0a" shape-rendering="crispEdges"/>
<rect x="254.5" y="4.5" width="4" height="6" fill="url(#cndl)" stroke="#0a9a0a" stroke-width="1"/>
<g fill="#505050" shape-rendering="crispEdges">
<rect x="278" y="3" width="1" height="14"/>
<rect x="277" y="4" width="3" height="1"/>
<rect x="276" y="14" width="13" height="1"/>
<rect x="287" y="13" width="1" height="3"/>
<rect x="289" y="14" width="1" height="1"/>
</g>
<path d="M277 11.8 C280 10 281.5 6.2 283.4 6.3 C285.2 6.4 286.6 9.4 289 10.2" fill="none" stroke="#1a8a2a" stroke-width="1.1"/>
<rect x="299" y="0" width="1" height="20" fill="#999999" shape-rendering="crispEdges"/><rect x="300" y="0" width="1" height="20" fill="#fafafa" shape-rendering="crispEdges"/>
<line x1="318.1" y1="11.3" x2="322.7" y2="15.2" stroke="#9a7400" stroke-width="3.6" stroke-linecap="butt"/>
<line x1="318.3" y1="11.5" x2="322.4" y2="14.9" stroke="#f0c828" stroke-width="2"/>
<circle cx="314.1" cy="6.9" r="5.5" fill="url(#lens)" stroke="#2a6cb8" stroke-width="1.1"/>
<rect x="311.1" y="6" width="6" height="1.8" fill="#3c82aa"/>
<rect x="313.2" y="3.9" width="1.8" height="6" fill="#3c82aa"/>
<line x1="346.2" y1="11.3" x2="350.8" y2="15.2" stroke="#9a7400" stroke-width="3.6" stroke-linecap="butt"/>
<line x1="346.4" y1="11.5" x2="350.5" y2="14.9" stroke="#f0c828" stroke-width="2"/>
<circle cx="342.2" cy="6.9" r="5.5" fill="url(#lens)" stroke="#2a6cb8" stroke-width="1.1"/>
<rect x="339.2" y="6" width="6" height="1.8" fill="#3c82aa"/>
<rect x="364" y="1" width="8" height="8" fill="#3aa81e" shape-rendering="crispEdges"/>
<rect x="364" y="1" width="8" height="2" fill="#2a8a12" shape-rendering="crispEdges"/>
<rect x="365" y="4" width="6" height="4" fill="#fff" shape-rendering="crispEdges"/>
<rect x="366" y="6" width="4" height="1" fill="#3aa81e" opacity=".45" shape-rendering="crispEdges"/>
<rect x="365" y="2" width="1" height="1" fill="#fff" opacity=".8" shape-rendering="crispEdges"/>
<rect x="372" y="1" width="8" height="8" fill="#2a5adc" shape-rendering="crispEdges"/>
<rect x="372" y="1" width="8" height="2" fill="#1838b0" shape-rendering="crispEdges"/>
<rect x="373" y="4" width="6" height="4" fill="#fff" shape-rendering="crispEdges"/>
<rect x="374" y="6" width="4" height="1" fill="#2a5adc" opacity=".45" shape-rendering="crispEdges"/>
<rect x="373" y="2" width="1" height="1" fill="#fff" opacity=".8" shape-rendering="crispEdges"/>
<rect x="364" y="9" width="8" height="8" fill="#2a5adc" shape-rendering="crispEdges"/>
<rect x="364" y="9" width="8" height="2" fill="#1838b0" shape-rendering="crispEdges"/>
<rect x="365" y="12" width="6" height="4" fill="#fff" shape-rendering="crispEdges"/>
<rect x="366" y="14" width="4" height="1" fill="#2a5adc" opacity=".45" shape-rendering="crispEdges"/>
<rect x="365" y="10" width="1" height="1" fill="#fff" opacity=".8" shape-rendering="crispEdges"/>
<rect x="372" y="9" width="8" height="8" fill="#3aa81e" shape-rendering="crispEdges"/>
<rect x="372" y="9" width="8" height="2" fill="#2a8a12" shape-rendering="crispEdges"/>
<rect x="373" y="12" width="6" height="4" fill="#fff" shape-rendering="crispEdges"/>
<rect x="374" y="14" width="4" height="1" fill="#3aa81e" opacity=".45" shape-rendering="crispEdges"/>
<rect x="373" y="10" width="1" height="1" fill="#fff" opacity=".8" shape-rendering="crispEdges"/>
<rect x="389" y="0" width="1" height="20" fill="#999999" shape-rendering="crispEdges"/><rect x="390" y="0" width="1" height="20" fill="#fafafa" shape-rendering="crispEdges"/>
<rect x="395" y="0" width="24" height="19" fill="url(#chk)" shape-rendering="crispEdges"/>
<rect x="394" y="0" width="1" height="19" fill="#999999" shape-rendering="crispEdges"/>
<g fill="#505050" shape-rendering="crispEdges">
<rect x="402" y="3" width="1" height="14"/>
<rect x="401" y="4" width="3" height="1"/>
<rect x="400" y="14" width="13" height="1"/>
<rect x="411" y="13" width="1" height="3"/>
<rect x="413" y="14" width="1" height="1"/>
</g>
<path d="M407.3 5.2 L410.6 8.5 L407.3 11.8 Z" fill="#6be06b" stroke="#0a8a0a" stroke-width="1" stroke-linejoin="miter"/>
<rect x="423" y="0" width="24" height="19" fill="url(#chk)" shape-rendering="crispEdges"/>
<rect x="422" y="0" width="1" height="19" fill="#999999" shape-rendering="crispEdges"/>
<g fill="#505050" shape-rendering="crispEdges">
<rect x="430" y="3" width="1" height="14"/>
<rect x="429" y="4" width="3" height="1"/>
<rect x="428" y="14" width="13" height="1"/>
<rect x="439" y="13" width="1" height="3"/>
<rect x="441" y="14" width="1" height="1"/>
</g>
<rect x="436" y="3" width="1" height="10" fill="#1c6ea4" shape-rendering="crispEdges"/>
<path d="M437.6 8.5 L440.6 6.2 L440 8 L442 8 L442 9 L440 9 L440.6 10.8 Z" fill="#e04a00"/>
<rect x="451" y="0" width="1" height="20" fill="#999999" shape-rendering="crispEdges"/><rect x="452" y="0" width="1" height="20" fill="#fafafa" shape-rendering="crispEdges"/>
<path d="M461.7 2 L469.6 2 L472.6 5 L472.6 14.3 L461.7 14.3 Z" fill="#fdfdfd" stroke="#9a9a9a" stroke-width=".9"/>
<path d="M469.6 2 L469.6 5 L472.6 5" fill="#e4e4e4" stroke="#9a9a9a" stroke-width=".7"/>
<path d="M465.4 5 C464.2 5 464.4 7 464.4 8 C464.4 9.6 464.2 11.4 465.6 11.6 M464.4 8.2 L466.4 8.2" fill="none" stroke="#60584a" stroke-width=".8"/>
<path d="M469 7.4 L473 7.4 L473 11 L476.6 11 L476.6 14.6 L473 14.6 L473 18.3 L469 18.3 L469 14.6 L465.3 14.6 L465.3 11 L469 11 Z" fill="url(#plus)" stroke="#068a06" stroke-width=".9"/>
<rect x="483" y="8" width="5" height="1" fill="#000" shape-rendering="crispEdges"/>
<rect x="484" y="9" width="3" height="1" fill="#000" shape-rendering="crispEdges"/>
<rect x="485" y="10" width="1" height="1" fill="#000" shape-rendering="crispEdges"/>
<circle cx="507.1" cy="8.9" r="7.9" fill="url(#clk)"/>
<circle cx="507.1" cy="8.9" r="5.1" fill="#fbfdff"/>
<path d="M506.6 5 L506.6 9 L509.4 9" fill="none" stroke="#111" stroke-width="1.1"/>
<g fill="#777"><circle cx="507.1" cy="4.6" r=".45"/><circle cx="507.1" cy="13.2" r=".45"/><circle cx="502.8" cy="8.9" r=".45"/><circle cx="511.4" cy="8.9" r=".45"/><circle cx="504" cy="5.8" r=".35"/><circle cx="510.2" cy="5.8" r=".35"/><circle cx="504" cy="12" r=".35"/><circle cx="510.2" cy="12" r=".35"/></g>
<rect x="506" y="11" width="2.4" height=".8" fill="#8ec4f4"/>
<rect x="522" y="8" width="5" height="1" fill="#000" shape-rendering="crispEdges"/>
<rect x="523" y="9" width="3" height="1" fill="#000" shape-rendering="crispEdges"/>
<rect x="524" y="10" width="1" height="1" fill="#000" shape-rendering="crispEdges"/>
<rect x="538.5" y="2.5" width="15" height="13" fill="#fff" stroke="#3c78c8" stroke-width="1"/>
<rect x="539" y="3" width="14" height="2" fill="#5a9ae6" shape-rendering="crispEdges"/>
<rect x="539" y="10" width="14" height="1" fill="#3c78c8" shape-rendering="crispEdges"/>
<path d="M540.4 8.4 L542.4 8.4 L543.6 7.2 L545 7.2 L545.8 6.2 L547.2 6.2 L548 7.4 L549.6 7.4 L550.6 6.4 L552 6.4" fill="none" stroke="#a02000" stroke-width="1"/>
<path d="M541 13.6 L542.6 13.6 L543.8 12.6 L545 12.6 L546 13.8 L547.2 13.8 L548.8 11.6 L549.8 11.6 L551.8 13.8" fill="none" stroke="#10902a" stroke-width="1"/>
<rect x="561" y="8" width="5" height="1" fill="#000" shape-rendering="crispEdges"/>
<rect x="562" y="9" width="3" height="1" fill="#000" shape-rendering="crispEdges"/>
<rect x="563" y="10" width="1" height="1" fill="#000" shape-rendering="crispEdges"/>
<rect x="572" y="0" width="1" height="20" fill="#999999" shape-rendering="crispEdges"/><rect x="573" y="0" width="1" height="20" fill="#fafafa" shape-rendering="crispEdges"/>
<rect x="576" y="1" width="3" height="1" fill="#a0a0a0" shape-rendering="crispEdges"/>
<rect x="576" y="3" width="3" height="1" fill="#a0a0a0" shape-rendering="crispEdges"/>
<rect x="576" y="5" width="3" height="1" fill="#a0a0a0" shape-rendering="crispEdges"/>
<rect x="576" y="7" width="3" height="1" fill="#a0a0a0" shape-rendering="crispEdges"/>
<rect x="576" y="9" width="3" height="1" fill="#a0a0a0" shape-rendering="crispEdges"/>
<rect x="576" y="11" width="3" height="1" fill="#a0a0a0" shape-rendering="crispEdges"/>
<rect x="576" y="13" width="3" height="1" fill="#a0a0a0" shape-rendering="crispEdges"/>
<rect x="576" y="15" width="3" height="1" fill="#a0a0a0" shape-rendering="crispEdges"/>
<rect x="576" y="17" width="3" height="1" fill="#a0a0a0" shape-rendering="crispEdges"/>
<rect x="583" y="0" width="24" height="19" fill="url(#chk)" shape-rendering="crispEdges"/>
<rect x="582" y="0" width="1" height="19" fill="#999999" shape-rendering="crispEdges"/>
<path d="M590 2 L590 12.8 L592.5 10.7 L594.7 16 L596.6 15.2 L594.5 10.1 L597.9 9.5 Z" fill="#505050"/>
<g fill="#505050" shape-rendering="crispEdges"><rect x="622" y="2" width="1" height="6"/><rect x="622" y="11" width="1" height="6"/><rect x="615" y="9" width="6" height="1"/><rect x="624" y="9" width="6" height="1"/></g>
<rect x="622" y="9" width="1" height="1" fill="#9a9a9a" shape-rendering="crispEdges"/>
<rect x="639" y="0" width="1" height="20" fill="#999999" shape-rendering="crispEdges"/><rect x="640" y="0" width="1" height="20" fill="#fafafa" shape-rendering="crispEdges"/>
<rect x="656" y="3" width="1" height="13" fill="#505050" shape-rendering="crispEdges"/>
<rect x="679" y="9" width="12" height="1" fill="#505050" shape-rendering="crispEdges"/>
<line x1="707" y1="16" x2="719" y2="4" stroke="#505050" stroke-width=".95"/>
<g stroke="#505050" fill="none">
<line x1="732.4" y1="10.6" x2="740.8" y2="3.1" stroke-width="1"/>
<line x1="738" y1="15.7" x2="747" y2="7.3" stroke-width="1"/>
<path d="M733.8 14.6 L735.2 15.6 L735.5 9 L738.3 12.2 L738.7 7.8 L741.5 11.6 L741.9 5.6 L744.2 7.8 L744.5 1.4 L745.4 8" stroke-width="1.05" stroke-linejoin="round"/>
</g>
<text x="743.6" y="17.8" font-size="6.6" font-weight="bold" fill="#333">E</text>
<rect x="762" y="2" width="1" height="1" fill="#505050" shape-rendering="crispEdges"/>
<rect x="764" y="2" width="1" height="1" fill="#505050" shape-rendering="crispEdges"/>
<rect x="766" y="2" width="1" height="1" fill="#505050" shape-rendering="crispEdges"/>
<rect x="768" y="2" width="1" height="1" fill="#505050" shape-rendering="crispEdges"/>
<rect x="770" y="2" width="1" height="1" fill="#505050" shape-rendering="crispEdges"/>
<rect x="772" y="2" width="1" height="1" fill="#505050" shape-rendering="crispEdges"/>
<rect x="774" y="2" width="1" height="1" fill="#505050" shape-rendering="crispEdges"/>
<rect x="762" y="5" width="1" height="1" fill="#505050" shape-rendering="crispEdges"/>
<rect x="764" y="5" width="1" height="1" fill="#505050" shape-rendering="crispEdges"/>
<rect x="766" y="5" width="1" height="1" fill="#505050" shape-rendering="crispEdges"/>
<rect x="768" y="5" width="1" height="1" fill="#505050" shape-rendering="crispEdges"/>
<rect x="770" y="5" width="1" height="1" fill="#505050" shape-rendering="crispEdges"/>
<rect x="772" y="5" width="1" height="1" fill="#505050" shape-rendering="crispEdges"/>
<rect x="774" y="5" width="1" height="1" fill="#505050" shape-rendering="crispEdges"/>
<rect x="762" y="9" width="1" height="1" fill="#505050" shape-rendering="crispEdges"/>
<rect x="764" y="9" width="1" height="1" fill="#505050" shape-rendering="crispEdges"/>
<rect x="766" y="9" width="1" height="1" fill="#505050" shape-rendering="crispEdges"/>
<rect x="768" y="9" width="1" height="1" fill="#505050" shape-rendering="crispEdges"/>
<rect x="770" y="9" width="1" height="1" fill="#505050" shape-rendering="crispEdges"/>
<rect x="772" y="9" width="1" height="1" fill="#505050" shape-rendering="crispEdges"/>
<rect x="774" y="9" width="1" height="1" fill="#505050" shape-rendering="crispEdges"/>
<rect x="762" y="13" width="1" height="1" fill="#505050" shape-rendering="crispEdges"/>
<rect x="764" y="13" width="1" height="1" fill="#505050" shape-rendering="crispEdges"/>
<rect x="766" y="13" width="1" height="1" fill="#505050" shape-rendering="crispEdges"/>
<rect x="768" y="13" width="1" height="1" fill="#505050" shape-rendering="crispEdges"/>
<rect x="770" y="13" width="1" height="1" fill="#505050" shape-rendering="crispEdges"/>
<text x="771.4" y="17.8" font-size="6.6" font-weight="bold" fill="#333">F</text>
<text transform="translate(792.6,14) scale(.9,1)" font-size="12.8" fill="#505050" stroke="#505050" stroke-width=".45">A</text>
<rect x="819" y="3" width="1" height="1" fill="#505050" shape-rendering="crispEdges"/><rect x="819" y="15" width="1" height="1" fill="#505050" shape-rendering="crispEdges"/>
<rect x="819" y="3" width="1" height="1" fill="#505050" shape-rendering="crispEdges"/><rect x="830" y="3" width="1" height="1" fill="#505050" shape-rendering="crispEdges"/>
<rect x="821" y="3" width="1" height="1" fill="#505050" shape-rendering="crispEdges"/><rect x="821" y="15" width="1" height="1" fill="#505050" shape-rendering="crispEdges"/>
<rect x="819" y="5" width="1" height="1" fill="#505050" shape-rendering="crispEdges"/><rect x="830" y="5" width="1" height="1" fill="#505050" shape-rendering="crispEdges"/>
<rect x="823" y="3" width="1" height="1" fill="#505050" shape-rendering="crispEdges"/><rect x="823" y="15" width="1" height="1" fill="#505050" shape-rendering="crispEdges"/>
<rect x="819" y="7" width="1" height="1" fill="#505050" shape-rendering="crispEdges"/><rect x="830" y="7" width="1" height="1" fill="#505050" shape-rendering="crispEdges"/>
<rect x="825" y="3" width="1" height="1" fill="#505050" shape-rendering="crispEdges"/><rect x="825" y="15" width="1" height="1" fill="#505050" shape-rendering="crispEdges"/>
<rect x="819" y="9" width="1" height="1" fill="#505050" shape-rendering="crispEdges"/><rect x="830" y="9" width="1" height="1" fill="#505050" shape-rendering="crispEdges"/>
<rect x="827" y="3" width="1" height="1" fill="#505050" shape-rendering="crispEdges"/><rect x="827" y="15" width="1" height="1" fill="#505050" shape-rendering="crispEdges"/>
<rect x="819" y="11" width="1" height="1" fill="#505050" shape-rendering="crispEdges"/><rect x="830" y="11" width="1" height="1" fill="#505050" shape-rendering="crispEdges"/>
<rect x="829" y="3" width="1" height="1" fill="#505050" shape-rendering="crispEdges"/><rect x="829" y="15" width="1" height="1" fill="#505050" shape-rendering="crispEdges"/>
<rect x="819" y="13" width="1" height="1" fill="#505050" shape-rendering="crispEdges"/><rect x="830" y="13" width="1" height="1" fill="#505050" shape-rendering="crispEdges"/>
<rect x="818" y="2" width="2" height="1" fill="#505050" shape-rendering="crispEdges"/>
<g fill="#505050" shape-rendering="auto"><rect x="821.8" y="6" width="7" height="1.6"/><rect x="824.4" y="6" width="1.8" height="7.8"/></g>
<path d="M849.5 3.2 L853.2 7 L849.5 7.8 L845.8 7 Z" fill="#505050"/>
<path d="M856.5 15.8 L852.8 12 L856.5 11.2 L860.2 12 Z" fill="#505050"/>
<path d="M848.6 10.4 L850.4 12 L855.2 7.4" fill="none" stroke="#505050" stroke-width="1.1"/>
<rect x="867" y="8" width="5" height="1" fill="#000" shape-rendering="crispEdges"/>
<rect x="868" y="9" width="3" height="1" fill="#000" shape-rendering="crispEdges"/>
<rect x="869" y="10" width="1" height="1" fill="#000" shape-rendering="crispEdges"/>
<rect x="878" y="0" width="1" height="20" fill="#999999" shape-rendering="crispEdges"/><rect x="879" y="0" width="1" height="20" fill="#fafafa" shape-rendering="crispEdges"/>
<rect x="882" y="1" width="3" height="1" fill="#a0a0a0" shape-rendering="crispEdges"/>
<rect x="882" y="3" width="3" height="1" fill="#a0a0a0" shape-rendering="crispEdges"/>
<rect x="882" y="5" width="3" height="1" fill="#a0a0a0" shape-rendering="crispEdges"/>
<rect x="882" y="7" width="3" height="1" fill="#a0a0a0" shape-rendering="crispEdges"/>
<rect x="882" y="9" width="3" height="1" fill="#a0a0a0" shape-rendering="crispEdges"/>
<rect x="882" y="11" width="3" height="1" fill="#a0a0a0" shape-rendering="crispEdges"/>
<rect x="882" y="13" width="3" height="1" fill="#a0a0a0" shape-rendering="crispEdges"/>
<rect x="882" y="15" width="3" height="1" fill="#a0a0a0" shape-rendering="crispEdges"/>
<rect x="882" y="17" width="3" height="1" fill="#a0a0a0" shape-rendering="crispEdges"/>
<rect x="1029" y="0" width="24" height="19" fill="url(#chk)" shape-rendering="crispEdges"/>
<rect x="1028" y="0" width="1" height="19" fill="#999999" shape-rendering="crispEdges"/>
<rect x="1139" y="0" width="1" height="20" fill="#999999" shape-rendering="crispEdges"/><rect x="1140" y="0" width="1" height="20" fill="#fafafa" shape-rendering="crispEdges"/>
<circle cx="1610" cy="6.3" r="3.9" fill="#f1f3f8" stroke="#2c5ccc" stroke-width="1.3"/>
<line x1="1607.2" y1="9.4" x2="1602" y2="14" stroke="#2c5ccc" stroke-width="2"/>
<path d="M1627 10.5 C1627 7.6 1630 6.2 1633.5 6.2 C1637.5 6.2 1640 8 1640 10.6 C1640 13.4 1637 14.8 1633.6 14.8 L1629.6 17.2 L1630.4 14.2 C1628.4 13.6 1627 12.4 1627 10.5 Z" fill="#e6e8ee" stroke="#a4a8b6" stroke-width=".8"/>
<circle cx="1640.6" cy="6.2" r="8" fill="url(#badge)"/>
<text x="1637.2" y="10.6" font-size="12.5" fill="#fff">1</text>
<text transform="translate(893,13) scale(.955,1)" font-size="9.9" fill="#3c3c3c">M1</text>
<text transform="translate(921,13) scale(.955,1)" font-size="9.9" fill="#3c3c3c">M5</text>
<text transform="translate(947.2,13) scale(.955,1)" font-size="9.9" fill="#3c3c3c">M15</text>
<text transform="translate(975.2,13) scale(.955,1)" font-size="9.9" fill="#3c3c3c">M30</text>
<text transform="translate(1006.3,13) scale(.955,1)" font-size="9.9" fill="#3c3c3c">H1</text>
<text transform="translate(1033.2,13) scale(.955,1)" font-size="9.9" fill="#3c3c3c">H4</text>
<text transform="translate(1062.3,13) scale(.955,1)" font-size="9.9" fill="#3c3c3c">D1</text>
<text transform="translate(1090,13) scale(.955,1)" font-size="9.9" fill="#3c3c3c">W1</text>
<text transform="translate(1116.5,13) scale(.955,1)" font-size="9.9" fill="#3c3c3c">MN</text>
</svg>
<span class="t" style="left:-3.2px;top:1.3px;">新订单</span>
<span class="t" style="left:148.5px;top:1.3px;">自动交易</span>
</div>
</body></html>
